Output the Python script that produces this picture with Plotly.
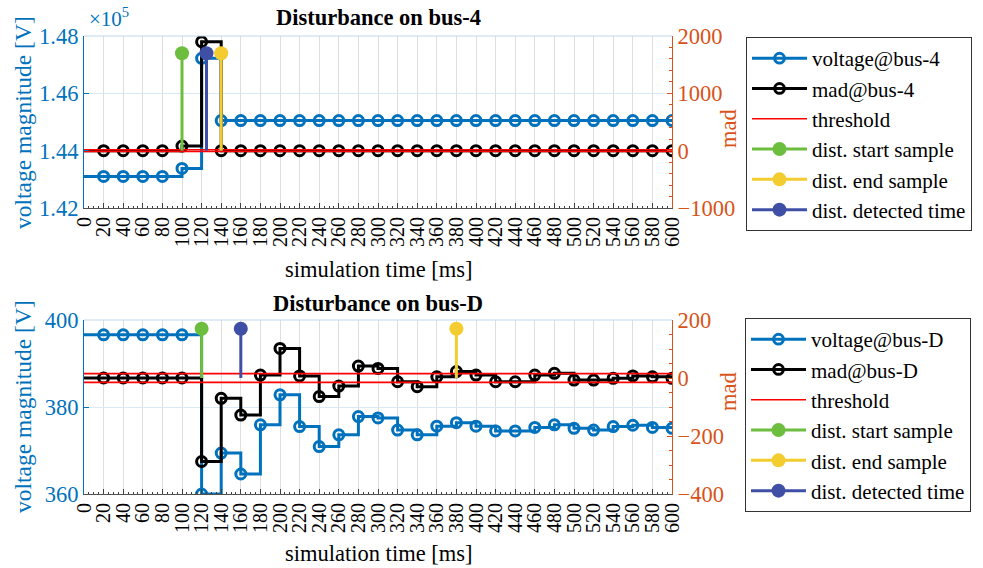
import plotly.graph_objects as go

# ---------------- data ----------------
t = list(range(0, 601, 20))
x_ticks = list(range(0, 601, 20))

v_bus4 = [143100, 143100, 143100, 143100, 143100, 143380, 147220] + [145050] * 24
mad_bus4 = [0, 0, 0, 0, 0, 80, 1900] + [0] * 24
thr_bus4 = 15

v_busD = [396.6, 396.6, 396.6, 396.6, 396.6, 396.6, 360.0, 369.4, 364.6, 375.9, 382.8,
          375.5, 370.9, 373.6, 377.8, 377.5, 374.7, 373.6, 375.6, 376.4, 375.6,
          374.5, 374.5, 375.3, 375.9, 375.1, 374.7, 375.5, 375.8, 375.3, 375.1]
mad_busD = [0, 0, 0, 0, 0, 0, -288, -70, -128, 10, 102, 7, -64, -28, 41, 33, -13, -30,
            4, 22, 10, -13, -13, 10, 16, -7, -7, -1, 7, 4, -1]
thr_busD = 15

# stems: start, end, detected
stem_t_bus4 = [100, 140, 125]
stem_h_bus4 = [1700, 1700, 1700]
stem_t_busD = [120, 380, 160]
stem_h_busD = [170, 170, 170]

left_ticks_4 = [142000, 144000, 146000, 148000]
left_ticktext_4 = ["1.42", "1.44", "1.46", "1.48"]
left_ticks_D = [360, 380, 400]
right_ticks_4 = [-1000, 0, 1000, 2000]
right_ticks_D = [-400, -200, 0, 200]

# ---------------- style ----------------
FONT = "Liberation Serif, Times New Roman, serif"
BLUE = "#0072BD"
ORANGE = "#D95319"
STEM_COLORS = ["#6DBE3F", "#F3CD2F", "#3F4FA6"]
STEM_NAMES = ["dist. start sample", "dist. end sample", "dist. detected time"]
GRID_V = "#DEDEDE"
GRID_H = "#D9EAF5"

W, H = 983, 568
x_dom = [84 / W, 672 / W]
top_dom = [1 - 208 / H, 1 - 36 / H]
bot_dom = [1 - 494 / H, 1 - 320 / H]

fig = go.Figure()


def add_panel(xa, ya, ya2, legend, volt, mad, thr, stem_t, stem_h, bus):
    sizes = [0] + [10] * (len(t) - 1)
    fig.add_trace(go.Scatter(
        x=t, y=volt, xaxis=xa, yaxis=ya, mode="lines+markers",
        line=dict(color=BLUE, width=3, shape="hv"),
        marker=dict(symbol="circle-open", size=sizes, color=BLUE, opacity=1,
                    line=dict(width=3)),
        name=f"voltage@bus-{bus}", legend=legend))
    fig.add_trace(go.Scatter(
        x=t, y=mad, xaxis=xa, yaxis=ya2, mode="lines+markers",
        line=dict(color="black", width=3, shape="hv"),
        marker=dict(symbol="circle-open", size=sizes, color="black", opacity=1,
                    line=dict(width=3)),
        name=f"mad@bus-{bus}", legend=legend))
    fig.add_trace(go.Scatter(
        x=[t[0], t[-1], None, t[0], t[-1]], y=[thr, thr, None, -thr, -thr],
        xaxis=xa, yaxis=ya2, mode="lines", line=dict(color="#FF0000", width=1.6),
        name="threshold", legend=legend))
    for st, sh, col, nm in zip(stem_t, stem_h, STEM_COLORS, STEM_NAMES):
        fig.add_trace(go.Scatter(
            x=[st, st], y=[0, sh], xaxis=xa, yaxis=ya2, mode="lines",
            line=dict(color=col, width=3), showlegend=False, hoverinfo="skip"))
    for st, sh, col, nm in zip(stem_t, stem_h, STEM_COLORS, STEM_NAMES):
        fig.add_trace(go.Scatter(
            x=[st], y=[sh], xaxis=xa, yaxis=ya2, mode="lines+markers",
            line=dict(color=col, width=3),
            marker=dict(symbol="circle", size=14, color=col, opacity=1),
            name=nm, legend=legend))


add_panel("x", "y", "y2", "legend", v_bus4, mad_bus4, thr_bus4, stem_t_bus4, stem_h_bus4, "4")
add_panel("x2", "y3", "y4", "legend2", v_busD, mad_busD, thr_busD, stem_t_busD, stem_h_busD, "D")

xaxis_common = dict(
    range=[0, 600], tickvals=x_ticks, tickangle=-90, ticks="inside", ticklen=5,
    tickcolor="#404040", tickfont=dict(family=FONT, size=20, color="black"),
    showgrid=True, gridcolor=GRID_V, gridwidth=1, showline=True, linecolor="#505050",
    linewidth=1, zeroline=False, domain=x_dom, automargin=False,
    minor=dict(dtick=5, ticks="inside", ticklen=2.5, tickcolor="#404040", showgrid=False),
)
yl_common = dict(ticks="inside", ticklen=5, tickcolor=BLUE,
                 tickfont=dict(family=FONT, size=22.5, color=BLUE), showline=True,
                 linecolor=BLUE, linewidth=1.2, showgrid=True, gridcolor=GRID_H,
                 zeroline=False, automargin=False)
yr_common = dict(side="right", ticks="inside", ticklen=5, tickcolor=ORANGE,
                 tickfont=dict(family=FONT, size=22.5, color=ORANGE), showline=True,
                 linecolor=ORANGE, linewidth=1.2, showgrid=False, zeroline=False,
                 automargin=False)
legend_common = dict(xanchor="left", yanchor="top", bgcolor="white",
                     bordercolor="#333333", borderwidth=1,
                     font=dict(family=FONT, size=21, color="black"), itemwidth=55,
                     tracegroupgap=0)

fig.update_layout(
    width=W, height=H, margin=dict(l=0, r=0, t=0, b=0, autoexpand=False),
    paper_bgcolor="white", plot_bgcolor="white", showlegend=True,
    font=dict(family=FONT, color="black"),
    xaxis=dict(**xaxis_common, anchor="y"),
    xaxis2=dict(**xaxis_common, anchor="y3"),
    yaxis=dict(**yl_common, domain=top_dom, range=[142000, 148000], tickvals=left_ticks_4,
               ticktext=left_ticktext_4, anchor="x"),
    yaxis2=dict(**yr_common, overlaying="y", range=[-1000, 2000], tickvals=right_ticks_4,
                anchor="x", minor=dict(dtick=200, ticks="inside", ticklen=3, tickcolor=ORANGE)),
    yaxis3=dict(**yl_common, domain=bot_dom, range=[360, 400], tickvals=left_ticks_D,
                anchor="x2"),
    yaxis4=dict(**yr_common, overlaying="y3", range=[-400, 200], tickvals=right_ticks_D,
                anchor="x2", minor=dict(dtick=50, ticks="inside", ticklen=3, tickcolor=ORANGE)),
    legend=dict(**legend_common, x=746 / W, y=1 - 37 / H),
    legend2=dict(**legend_common, x=745 / W, y=1 - 318 / H),
)

# top border lines of the boxes
for xr, yr in [("x domain", "y domain"), ("x2 domain", "y3 domain")]:
    fig.add_shape(type="line", xref=xr, yref=yr, x0=0, x1=1, y0=1, y1=1,
                  line=dict(color="#BFD8EC", width=1))

xc = (x_dom[0] + x_dom[1]) / 2
ann = []


def add_ann(text, x, y, size, color, angle=0, xanchor="center", yanchor="middle"):
    ann.append(dict(text=text, xref="paper", yref="paper", x=x, y=y, showarrow=False,
                    xanchor=xanchor, yanchor=yanchor, textangle=angle,
                    font=dict(family=FONT, size=size, color=color)))


add_ann("<b>Disturbance on bus-4</b>", xc, 1 - 18 / H, 22.5, "black")
add_ann("<b>Disturbance on bus-D</b>", xc, 1 - 303 / H, 22.5, "black")
add_ann("simulation time [ms]", xc, 1 - 270 / H, 22.5, "black")
add_ann("simulation time [ms]", xc, 1 - 553 / H, 22.5, "black")
add_ann("voltage magnitude [V]", 23 / W, 1 - 123 / H, 23.5, BLUE, angle=-90)
add_ann("voltage magnitude [V]", 23 / W, 1 - 407 / H, 23.5, BLUE, angle=-90)
add_ann("mad", 728 / W, 1 - 129 / H, 22.5, ORANGE, angle=-90)
add_ann("mad", 728 / W, 1 - 392 / H, 22.5, ORANGE, angle=-90)
add_ann("×10<sup>5</sup>", 87 / W, 1 - 33 / H, 21, BLUE, xanchor="left", yanchor="bottom")
fig.update_layout(annotations=ann)

fig.write_html("out.html", config={"displayModeBar": False},
               post_script="document.body.style.margin='0';document.body.style.padding='0';")
